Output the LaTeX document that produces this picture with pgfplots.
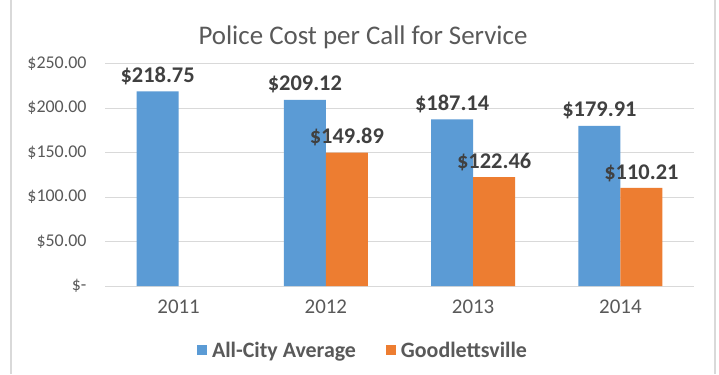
\documentclass[border=0pt]{standalone}
\usepackage{fontspec}
\setmainfont{Carlito}
\usepackage{pgfplots}
\pgfplotsset{compat=1.18}
\definecolor{cblue}{HTML}{5B9BD5}
\definecolor{corange}{HTML}{ED7D31}
\definecolor{txt}{HTML}{595959}
\definecolor{lbl}{HTML}{404040}
\definecolor{gridc}{HTML}{D9D9D9}

\begin{document}
\begin{tikzpicture}[x=1bp,y=1bp]
  \useasboundingbox (0,0) rectangle (719,374);
  \fill[white] (0,0) rectangle (719,374);
  % chart frame (only the sides show in the crop)
  \draw[gridc, line width=1.5bp] (11,0) -- (11,374) (715,0) -- (715,374);
  \node[txt, font=\fontsize{27}{30}\selectfont] at (363,337) {Police Cost per Call for Service};
  \begin{axis}[
      at={(105bp,88bp)}, anchor=south west,
      scale only axis, width=589bp, height=222.5bp,
      xmin=-0.5, xmax=3.5, ymin=0, ymax=250,
      ybar=0pt, bar width=42bp,
      clip=false,
      axis line style={draw=none},
      major tick length=0pt,
      ymajorgrids, grid style={gridc, line width=1bp},
      xtick={0,1,2,3},
      xticklabels={2011,2012,2013,2014},
      ytick={0,50,...,250},
      yticklabels={\$-\hspace{7bp},\$50.00,\$100.00,\$150.00,\$200.00,\$250.00},
      yticklabel style={txt, font=\fontsize{18}{20}\selectfont, xshift=-15bp},
      xticklabel style={txt, font=\fontsize{21}{24}\selectfont, yshift=-10bp},
      nodes near coords={\$\pgfmathprintnumber[fixed,fixed zerofill,precision=2,assume math mode=true]{\pgfplotspointmeta}},
      every node near coord/.append style={lbl, font=\bfseries\fontsize{22.5}{25}\selectfont, yshift=3bp},
      legend style={at={(0.438,-0.288)}, anchor=center, draw=none, fill=none,
        legend columns=2, font=\bfseries\fontsize{22}{24}\selectfont, text=txt,
        /tikz/every even column/.append style={column sep=28bp},
        /tikz/every odd column/.append style={column sep=3bp}},
      legend image code/.code={\fill[#1] (0bp,-5bp) rectangle (10bp,5bp);},
    ]
    \addplot[fill=cblue, draw=none] coordinates {(0,218.75) (1,209.12) (2,187.14) (3,179.91)};
    \addlegendentry{All-City Average}
    \addplot[fill=corange, draw=none] coordinates {(1,149.89) (2,122.46) (3,110.21)};
    \addlegendentry{Goodlettsville}
  \end{axis}
\end{tikzpicture}
\end{document}
